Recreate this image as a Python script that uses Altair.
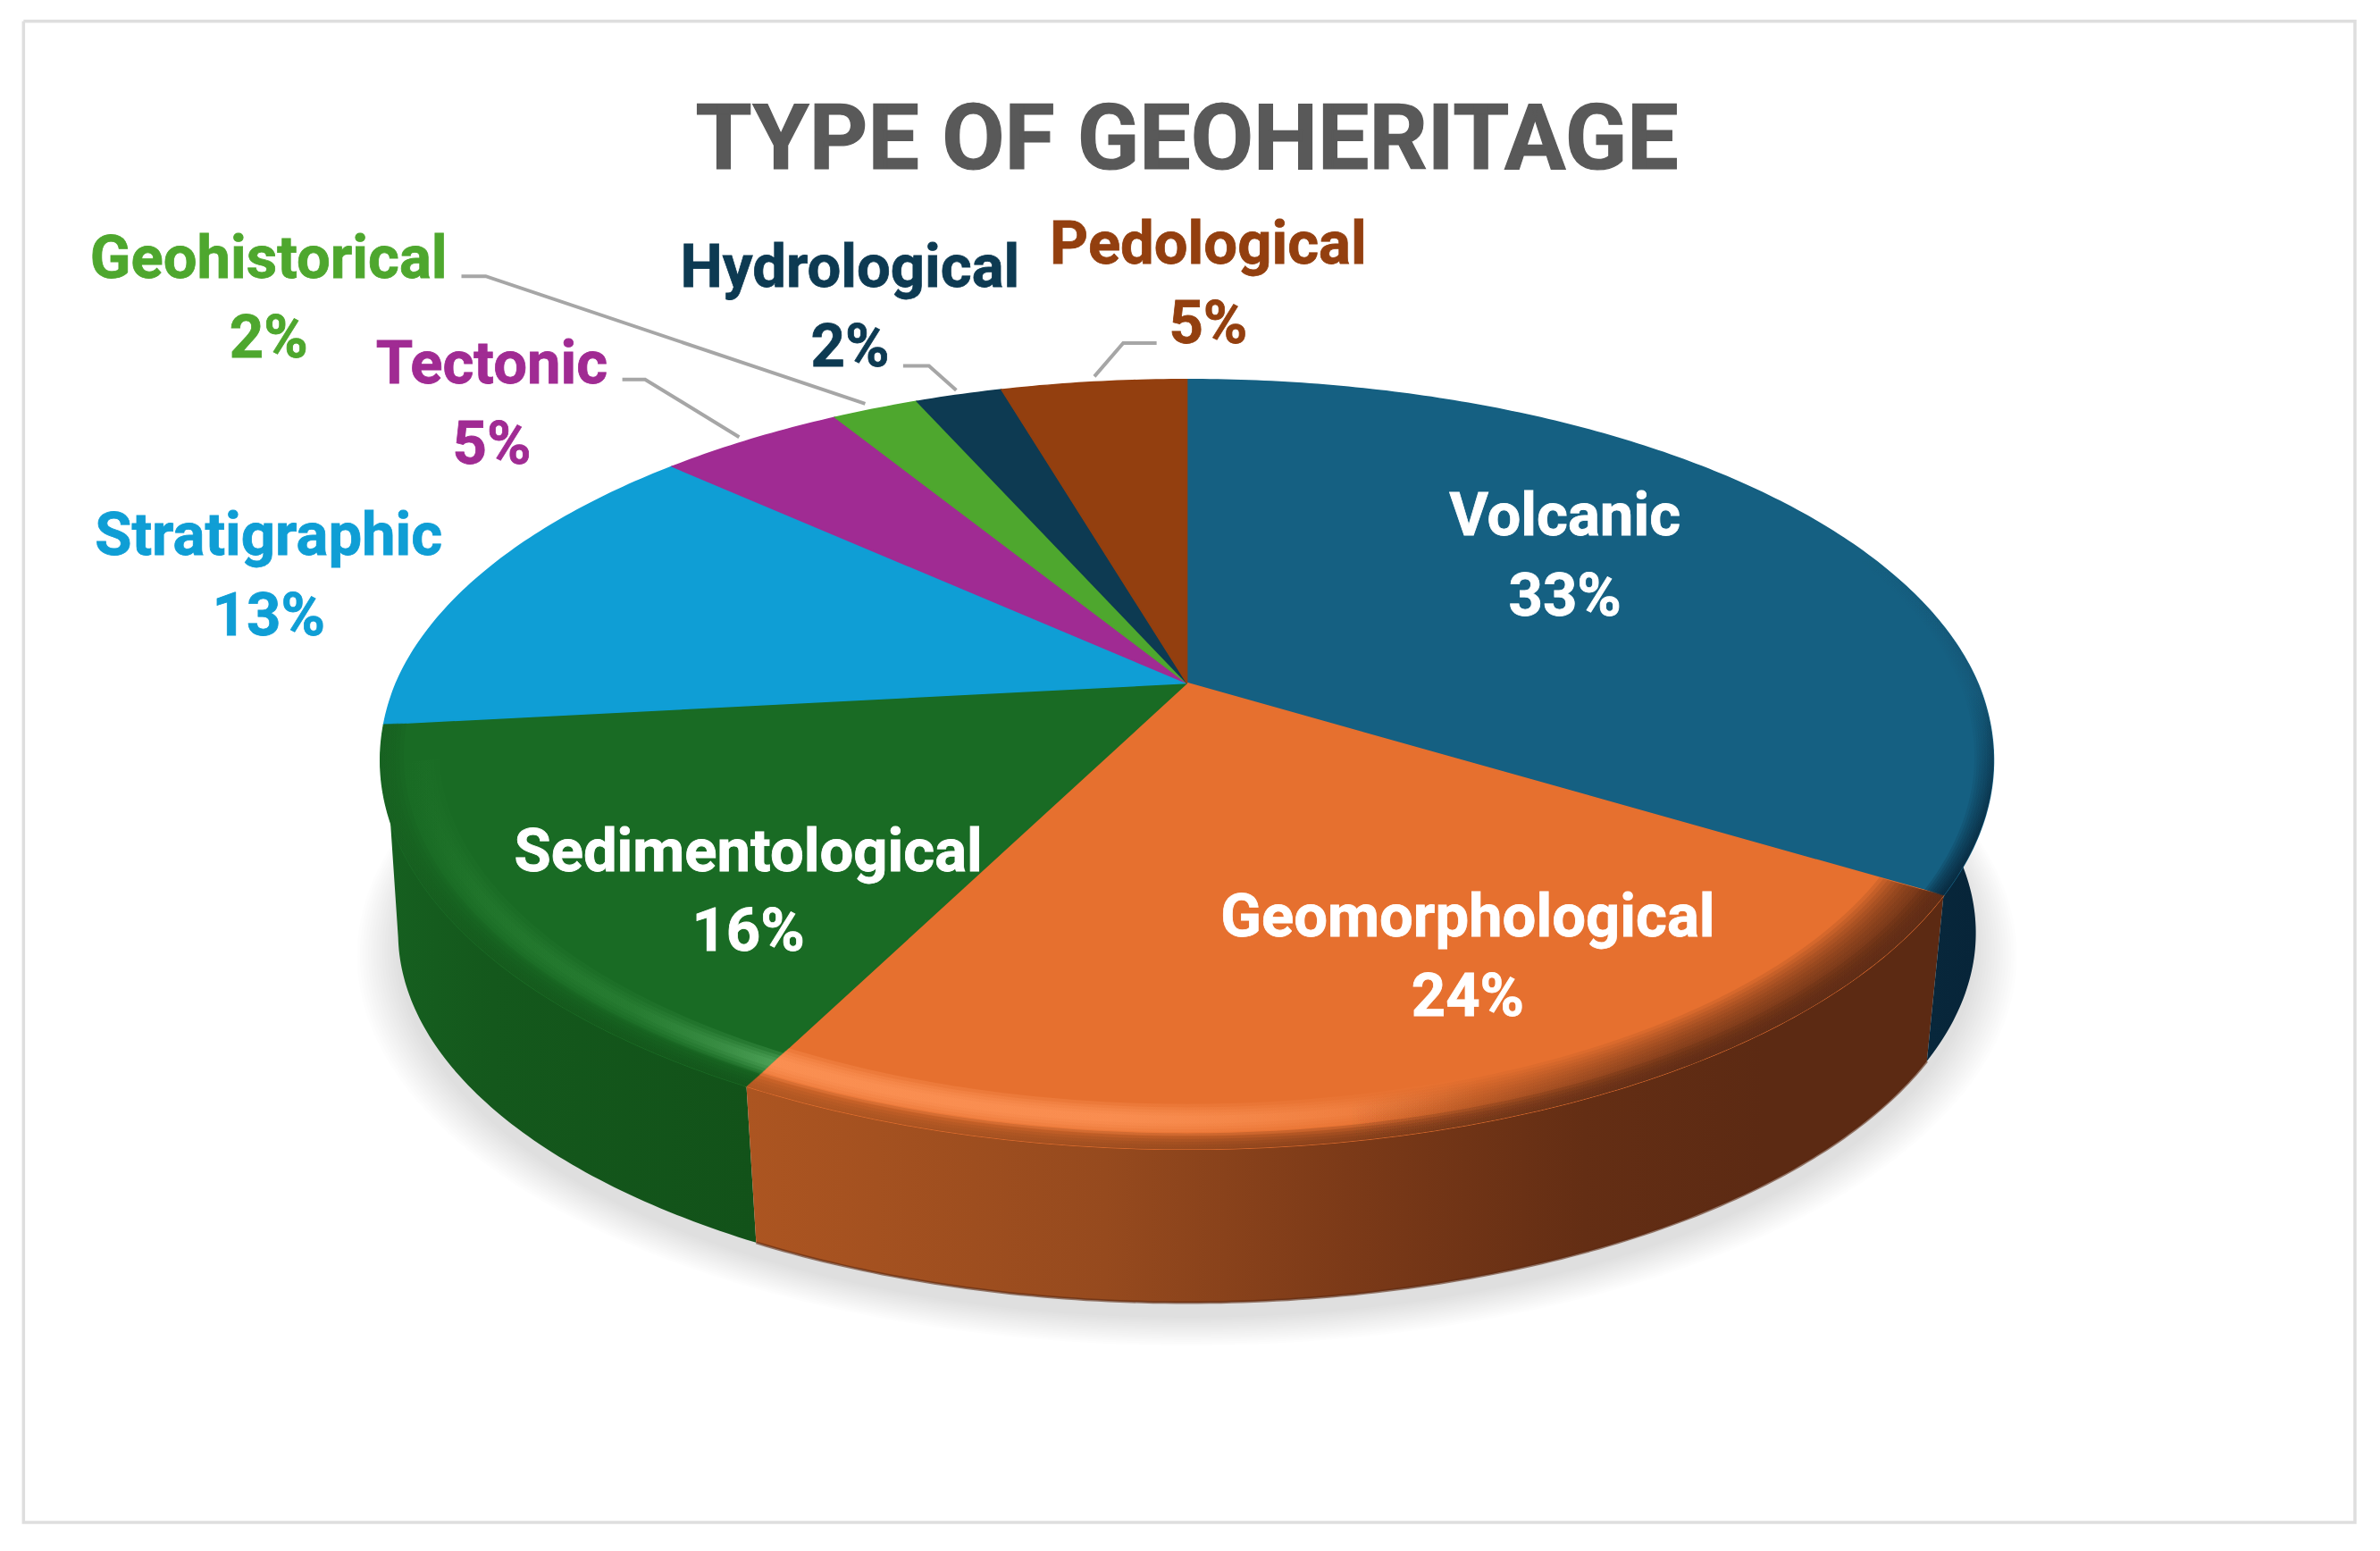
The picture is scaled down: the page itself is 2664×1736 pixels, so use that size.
import math
import altair as alt
import pandas as pd

# ---- chart values -------------------------------------------------------
categories = ["Volcanic", "Geomorphological", "Sedimentological", "Stratigraphic",
              "Tectonic", "Geohistorical", "Hydrological", "Pedological"]
label_percent = [33, 24, 16, 13, 5, 2, 2, 5]
slice_share = [33.5, 24.1, 15.7, 13.5, 4.5, 2.1, 2.1, 4.5]
top_colors = ["#156082", "#E6702F", "#196B24", "#0F9ED5",
              "#A02B93", "#4EA72E", "#0D3A52", "#933F0F"]
text_colors = ["#FFFFFF", "#FFFFFF", "#FFFFFF", "#0F9ED5",
               "#A02B93", "#4EA72E", "#0D3A52", "#933F0F"]
title_text = "TYPE OF GEOHERITAGE"

# ---- layout (units: pixels of the 1568-wide view of the page) -----------
K = 2664 / 1568
W, H = 2648, 1712
label_xy = {
    "Volcanic": (1031, 340), "Geomorphological": (967, 604),
    "Sedimentological": (493, 561), "Stratigraphic": (177, 353),
    "Tectonic": (324, 240), "Geohistorical": (177, 170),
    "Hydrological": (560, 176), "Pedological": (796, 161),
}
LINE_GAP = 52.5
leaders = [
    [(304, 182), (320, 182), (570, 266)],
    [(410, 250), (425, 250), (487, 288)],
    [(595, 241), (612, 241), (630, 257)],
    [(762, 226), (740, 226), (721, 248)],
]
frame = [(15.5, 14), (1551.5, 14), (1551.5, 1003), (15.5, 1003), (15.5, 14)]
CX, CY, RX, RY, PK = 782, 450, 521, 239.4, 0.197
DROP, LOWER, BEV = 116.6, 0.978, 9

# ---- geometry: slices go through a perspective view of the disc ----------
cum = [0.0]
for v in slice_share:
    cum.append(cum[-1] + v)
total = cum[-1]
edges = [c / total * 360 for c in cum]


def pt(theta, r=1.0, lower=False):
    t = math.radians(theta)
    px, py = r * math.sin(t), r * math.cos(t)
    w = 1 + PK * py
    s, cy = (LOWER, CY + DROP) if lower else (1.0, CY)
    y = cy - s * RY * py / w
    if not lower:
        y += BEV * max(0.0, -math.cos(t)) * r
    return CX + s * RX * px / w, y


def arc(a, b, r=1.0, lower=False):
    n = max(8, int(abs(b - a) * 1.5))
    return [pt(a + (b - a) * i / n, r, lower) for i in range(n + 1)]


def frame_of(points):
    return pd.DataFrame({"x": [p[0] for p in points], "y": [p[1] for p in points],
                         "i": list(range(len(points)))})


X = alt.X("x:Q", scale=alt.Scale(domain=[8 / K, (8 + W) / K], nice=False, zero=False), axis=None)
Y = alt.Y("y:Q", scale=alt.Scale(domain=[(8 + H) / K, 8 / K], nice=False, zero=False), axis=None)


def shape(points, fill, opacity=1.0, stroke=None):
    kw = dict(filled=True, fill=fill, opacity=opacity, clip=False)
    if stroke is not None:
        kw.update(stroke=stroke, strokeWidth=1.5)
    else:
        kw.update(strokeWidth=0)
    return alt.Chart(frame_of(points)).mark_line(**kw).encode(x=X, y=Y, order="i:Q")


def path(points, color, width, opacity=1.0):
    return alt.Chart(frame_of(points)).mark_line(color=color, strokeWidth=width, clip=False,
                                                 opacity=opacity,
                                                 strokeJoin="miter").encode(x=X, y=Y, order="i:Q")


def grad(stops, vertical=False):
    return alt.LinearGradient(gradient="linear", x1=0, y1=0,
                              x2=0 if vertical else 1, y2=1 if vertical else 0,
                              stops=[alt.GradientStop(offset=o, color=c) for o, c in stops])


layers = [path(frame, "#DEDEDE", 3.5)]

# soft shadow beneath the pie
steps = 16
for j in range(steps):
    r = 1.05 - 0.05 * j / (steps - 1)
    ring = [(p[0], p[1] + 10) for p in arc(0, 360, r, True)]
    layers.append(shape(ring, "#000000", 0.0085))

# side walls
orange_wall = [(0, "#AC5521"), (0.3, "#964A1E"), (0.5, "#7C3A18"), (0.7, "#642E14"),
               (0.85, "#5C2A13"), (1, "#5C2A13")]
green_wall = [(0, "#166020"), (0.3, "#14581C"), (1, "#125219")]
LEFTMOST = 258  # where the foot of the wall turns at the left silhouette
walls = [
    (edges[3], 280, edges[3], 280, grad([(0, "#0B7AA6"), (1, "#0B7AA6")])),
    (edges[2], edges[3], edges[2], LEFTMOST, grad(green_wall)),
    (edges[1], edges[2], edges[1], edges[2], grad(orange_wall)),
    (50, edges[1], 50, edges[1], grad([(0, "#0A3A55"), (0.7, "#08283C"), (1, "#072438")])),
]
for a, b, la, lb, g in walls:
    lo = arc(la, lb, 1.0, True)
    hi = arc(a, b, 1.0, False)
    layers.append(shape(hi + lo[::-1], g))

# thin darker line along the foot of the orange wall
layers.append(path(arc(edges[1], edges[2], 1.0, True), "#5C2A13", 3, 0.6))

# top faces
for i, name in enumerate(categories):
    a, b = edges[i], edges[i + 1]
    layers.append(shape([(CX, CY)] + arc(a, b) + [(CX, CY)], top_colors[i], stroke=top_colors[i]))


def band(a, b, r_in, r_out, g, op):
    return shape(arc(a, b, r_out) + arc(a, b, r_in)[::-1], g, op)


# the bevel of the rim: a glint on the lit side ...
oa, ob = edges[1], edges[2]
glint_o = grad([(0, "rgba(255,150,90,1)"), (0.3, "rgba(255,150,90,0.9)"),
                (0.5, "rgba(255,150,90,0.35)"), (0.62, "rgba(255,150,90,0)"),
                (1, "rgba(255,150,90,0)")])
glint_g = grad([(0, "rgba(50,140,60,0)"), (0.2, "rgba(50,140,60,0.3)"),
                (0.6, "rgba(60,150,70,0.4)"), (0.85, "rgba(80,165,90,0.7)"),
                (1, "rgba(95,180,105,1)")])
for half in (0.028, 0.022, 0.017, 0.012, 0.007):
    layers.append(band(oa, ob, 0.948 - half, 0.948 + half, glint_o, 0.28))
for half in (0.022, 0.016, 0.011, 0.006):
    layers.append(band(ob, 258, 0.952 - half, 0.952 + half, glint_g, 0.28))

# ... and the wall colour melting into the face
for r_in in (0.997, 0.992, 0.987, 0.982, 0.977, 0.972):
    layers.append(band(oa, ob, r_in, 1.0, grad(orange_wall), 0.3))
    layers.append(band(ob, edges[3], r_in, 1.0, grad(green_wall), 0.25))
fade_o = grad([(0, "rgba(92,42,19,0)"), (0.5, "rgba(110,52,22,0)"),
               (0.78, "rgba(92,42,19,0.8)"), (1, "rgba(92,42,19,1)")])
for r_in in (0.968, 0.963, 0.958, 0.953, 0.948, 0.943, 0.938, 0.933, 0.928, 0.923):
    layers.append(band(oa, ob, r_in, 1.0, fade_o, 0.14))

# dark edge of the blue slice
dark_b = grad([(0, "rgba(7,36,56,0)"), (0.45, "rgba(7,36,56,0.1)"), (1, "rgba(7,36,56,1)")],
              vertical=True)
for r_in in (0.998, 0.996, 0.994, 0.992, 0.989, 0.986, 0.983, 0.98, 0.977):
    layers.append(band(62, edges[1], r_in, 1.0, dark_b, 0.2))

# leader lines
for ld in leaders:
    layers.append(path(ld, "#A6A6A6", 4))

# data labels
rows = []
for name, v, c in zip(categories, label_percent, text_colors):
    lx, ly = label_xy[name]
    rows.append({"x": lx, "y": ly + 1, "t": name, "c": c})
    rows.append({"x": lx, "y": ly + 1 + LINE_GAP, "t": f"{v}%", "c": c})
labels = pd.DataFrame(rows)
layers.append(alt.Chart(labels).mark_text(font="Roboto", fontWeight="bold", fontSize=67,
                                          strokeWidth=0.8,
                                          align="center", baseline="middle").encode(
    x=X, y=Y, text="t:N", color=alt.Color("c:N", scale=None),
    stroke=alt.Stroke("c:N", scale=None)))

# title
layers.append(alt.Chart(pd.DataFrame({"x": [782], "y": [93], "t": [title_text]})).mark_text(
    font="Roboto", fontWeight="bold", fontSize=102, color="#595959", stroke="#595959",
    strokeWidth=1.2, align="center", baseline="middle").encode(x=X, y=Y, text="t:N"))

chart = alt.layer(*layers).properties(
    width=W, height=H, background="#FFFFFF", padding=0,
    autosize=alt.AutoSizeParams(type="none"),
).configure_view(stroke=None)

chart.save("out.html", embed_options={"renderer": "svg", "actions": False})
